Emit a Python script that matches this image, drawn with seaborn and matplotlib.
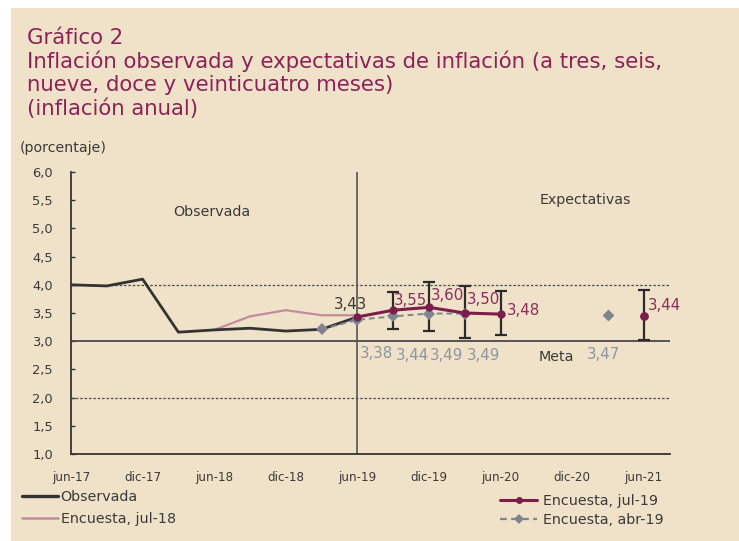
import matplotlib
matplotlib.use("Agg")
import matplotlib.pyplot as plt
import seaborn as sns
import pandas as pd
from matplotlib.lines import Line2D
from matplotlib.patches import Rectangle

# ---------------- data ----------------
tick_months = [0, 6, 12, 18, 24, 30, 36, 42, 48]
tick_labels = ["jun-17", "dic-17", "jun-18", "dic-18", "jun-19", "dic-19", "jun-20", "dic-20", "jun-21"]

obs_months = [0, 3, 6, 9, 12, 15, 18, 21, 24]
obs_values = [4.00, 3.98, 4.10, 3.16, 3.20, 3.23, 3.18, 3.21, 3.43]

jul18_months = [12, 15, 18, 21, 24]
jul18_values = [3.20, 3.44, 3.55, 3.46, 3.46]

abr19_months = [21, 24, 27, 30, 33]
abr19_values = [3.21, 3.38, 3.44, 3.49, 3.49]
abr19_far_month = [45]
abr19_far_value = [3.47]

jul19_months = [24, 27, 30, 33, 36]
jul19_values = [3.43, 3.55, 3.60, 3.50, 3.48]
jul19_far_month = [48]
jul19_far_value = [3.44]

err_months = [27, 30, 33, 36, 48]
err_centers = [3.55, 3.60, 3.50, 3.48, 3.44]
err_low = [3.21, 3.18, 3.05, 3.11, 3.02]
err_high = [3.88, 4.05, 3.98, 3.89, 3.90]

meta = 3.0
meta_band = [2.0, 4.0]
cut_month = 24

# ---------------- style ----------------
BG = "#F0E2C8"
C_OBS = "#333333"
C_J18 = "#C28C9C"
C_J19 = "#7A1F4B"
C_A19 = "#7E8590"
C_TXT = "#3A3A3A"
C_TITLE = "#8B2257"
C_LAB_P = "#8E2A5C"
C_LAB_G = "#8C96A2"

sns.set_theme(style="white")
plt.rcParams["font.family"] = ["DejaVu Sans"]

fig = plt.figure(figsize=(7.39, 5.41), dpi=100, facecolor="white")
fig.patches.append(Rectangle((11 / 739, 0), 1, 1 - 8 / 541, transform=fig.transFigure,
                             facecolor=BG, edgecolor="none", zorder=-10))

ax = fig.add_axes([71 / 739, 1 - 454 / 541, (670 - 71) / 739, (454 - 172) / 541])
ax.set_facecolor("none")

# reference lines
ax.axhline(meta, color="#4a4a4a", lw=1.3, zorder=1)
for v in meta_band:
    ax.axhline(v, color="#4a4a4a", lw=0.9, ls=(0, (2, 1.5)), zorder=1)
ax.axvline(cut_month, color="#555555", lw=1.2, zorder=1)

df_obs = pd.DataFrame({"m": obs_months, "v": obs_values})
df_j18 = pd.DataFrame({"m": jul18_months, "v": jul18_values})
df_a19 = pd.DataFrame({"m": abr19_months, "v": abr19_values})
df_j19 = pd.DataFrame({"m": jul19_months, "v": jul19_values})

sns.lineplot(data=df_j18, x="m", y="v", ax=ax, color=C_J18, lw=1.6, zorder=2)
sns.lineplot(data=df_obs, x="m", y="v", ax=ax, color=C_OBS, lw=2.0, zorder=3)

# error bars
ax.errorbar(err_months, err_centers,
            yerr=[[c - lo for c, lo in zip(err_centers, err_low)],
                  [hi - c for c, hi in zip(err_centers, err_high)]],
            fmt="none", ecolor="#2b2b2b", elinewidth=1.6, capsize=4, capthick=1.6, zorder=4)

sns.lineplot(data=df_a19, x="m", y="v", ax=ax, color=C_A19, lw=1.4, zorder=5,
             marker="D", markersize=6, markeredgewidth=0)
ax.lines[-1].set_dashes((3, 2))
sns.scatterplot(x=abr19_far_month, y=abr19_far_value, ax=ax, color=C_A19, marker="D",
                s=36, linewidth=0, zorder=5)
sns.lineplot(data=df_j19, x="m", y="v", ax=ax, color=C_J19, lw=2.2, zorder=6,
             marker="o", markersize=6, markeredgewidth=0)
sns.scatterplot(x=jul19_far_month, y=jul19_far_value, ax=ax, color=C_J19, marker="o",
                s=40, linewidth=0, zorder=6)

# value labels (offsets in pixels)
labels = [
    (24, 3.43, "3,43", (-7, 12), C_TXT),
    (24, 3.38, "3,38", (19, -34), C_LAB_G),
    (27, 3.55, "3,55", (17, 10), C_LAB_P),
    (27, 3.44, "3,44", (19, -39), C_LAB_G),
    (30, 3.60, "3,60", (19, 12), C_LAB_P),
    (30, 3.49, "3,49", (18, -42), C_LAB_G),
    (33, 3.50, "3,50", (19, 13), C_LAB_P),
    (33, 3.49, "3,49", (19, -42), C_LAB_G),
    (36, 3.48, "3,48", (23, 4), C_LAB_P),
    (45, 3.47, "3,47", (-4, -40), C_LAB_G),
    (48, 3.44, "3,44", (21, 11), C_LAB_P),
]
for m, v, t, off, c in labels:
    ax.annotate(t, xy=(m, v), xytext=off, textcoords="offset pixels",
                ha="center", va="center", fontsize=10.8, color=c, zorder=7)

ax.text(11.8, 5.29, "Observada", ha="center", va="center", fontsize=10.3, color=C_TXT)
ax.text(43.1, 5.50, "Expectativas", ha="center", va="center", fontsize=10.3, color=C_TXT)
ax.text(40.7, 2.72, "Meta", ha="center", va="center", fontsize=10.3, color=C_TXT)

ax.set_xlim(0, 50.2)
ax.set_ylim(1.0, 6.0)
ax.set_xticks(tick_months)
ax.set_xticklabels(tick_labels)
yt = [1.0 + 0.5 * i for i in range(11)]
ax.set_yticks(yt)
ax.set_yticklabels([f"{v:.1f}".replace(".", ",") for v in yt])
ax.set_xlabel("")
ax.set_ylabel("")
ax.tick_params(axis="x", length=0, pad=12, labelsize=8.6, labelcolor=C_TXT)
ax.tick_params(axis="y", direction="in", length=3, width=1, color="#333333",
               pad=13, labelsize=9.4, labelcolor=C_TXT, left=True)
for s in ["top", "right"]:
    ax.spines[s].set_visible(False)
for s in ["left", "bottom"]:
    ax.spines[s].set_color("#333333")
    ax.spines[s].set_linewidth(1.3)

fig.text(20 / 739, 1 - 148 / 541, "(porcentaje)", fontsize=10.2, color=C_TXT,
         ha="left", va="center")

# title
fig.text(27 / 739, 1 - 28 / 541, "Gráfico 2\nInflación observada y expectativas de inflación (a tres, seis,\n"
         "nueve, doce y veinticuatro meses)\n(inflación anual)",
         ha="left", va="top", fontsize=15.3, color=C_TITLE, linespacing=1.17)

# legends
h1 = [Line2D([], [], color=C_OBS, lw=2.4), Line2D([], [], color=C_J18, lw=1.8)]
leg1 = fig.legend(h1, ["Observada", "Encuesta, jul-18"], loc="upper left",
                  bbox_to_anchor=(22 / 739, 1 - 490 / 541), frameon=False, fontsize=10.3,
                  handlelength=2.5, handletextpad=0.2, labelspacing=0.55, borderpad=0,
                  borderaxespad=0)
h2 = [Line2D([], [], color=C_J19, lw=2.2, marker="o", markersize=5, markeredgewidth=0),
      Line2D([], [], color=C_A19, lw=1.6, ls=(0, (3, 2)), marker="D", markersize=5,
             markeredgewidth=0)]
leg2 = fig.legend(h2, ["Encuesta, jul-19", "Encuesta, abr-19"], loc="upper left",
                  bbox_to_anchor=(500 / 739, 1 - 494 / 541), frameon=False, fontsize=10.3,
                  handlelength=2.6, handletextpad=0.4, labelspacing=0.35, borderpad=0,
                  borderaxespad=0)
for lg in (leg1, leg2):
    for t in lg.get_texts():
        t.set_color(C_TXT)

fig.savefig("out.png", dpi=100, facecolor="white")
